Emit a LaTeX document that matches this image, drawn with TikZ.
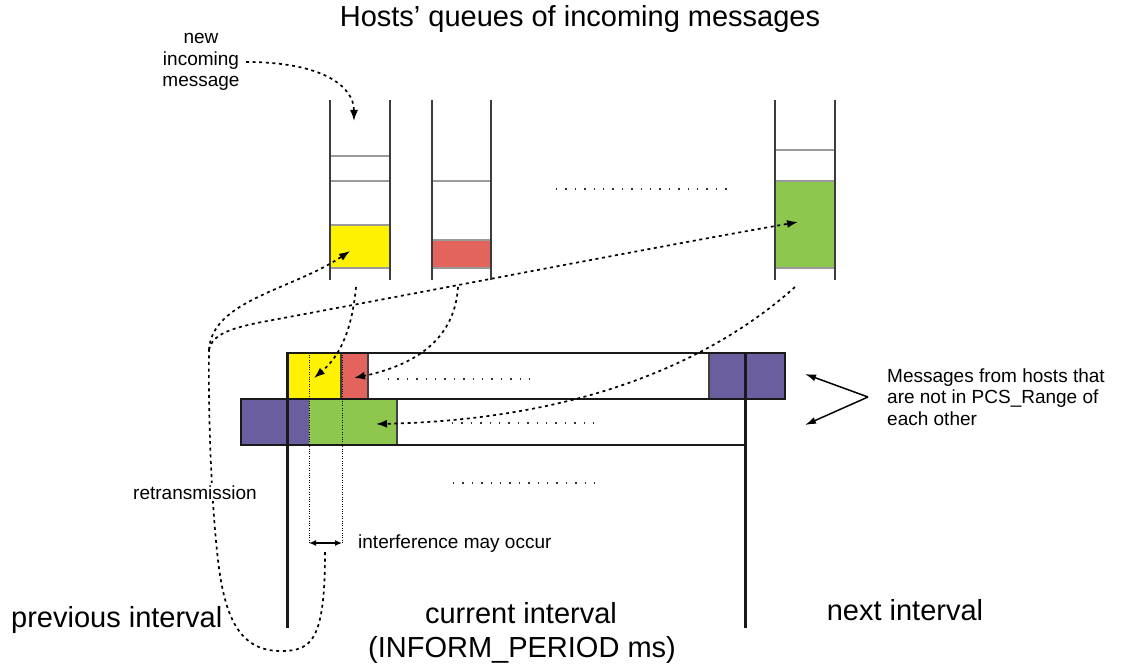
\documentclass[tikz,border=0pt]{standalone}
\usepackage{fontspec}
\setmainfont{Liberation Sans}
\usetikzlibrary{arrows.meta}

\definecolor{msgyellow}{HTML}{FFF200}
\definecolor{msgred}{HTML}{E3635D}
\definecolor{msggreen}{HTML}{8EC74E}
\definecolor{msgpurple}{HTML}{6B5E9E}
\definecolor{wallgrey}{HTML}{3C3C3C}
\definecolor{slotgrey}{HTML}{9A9A9A}

\tikzset{
  qwall/.style={draw=wallgrey, line width=1.8pt},
  slot/.style={draw=slotgrey, line width=1.2pt},
  rowedge/.style={draw=black!90, line width=1.6pt},
  celledge/.style={draw=black!75, line width=1.1pt},
  boundary/.style={draw=black!90, line width=3pt},
  flow/.style={line width=1.7pt, dash pattern=on 3pt off 3.6pt,
    -{Latex[length=11pt,width=8pt]}},
  flowline/.style={line width=1.7pt, dash pattern=on 3pt off 3.6pt},
  ellipsis/.style={line width=1.6pt, dash pattern=on 1.4pt off 8pt, draw=black!80},
  guide/.style={line width=1pt, dash pattern=on 1pt off 1.4pt},
  pointer/.style={line width=1.5pt, -{Latex[length=11pt,width=7pt]}},
  bigtext/.style={font=\fontsize{29}{34}\selectfont, inner sep=0pt},
  smalltext/.style={font=\fontsize{19}{21.5}\selectfont, inner sep=0pt},
}

\begin{document}
\begin{tikzpicture}[x=1pt,y=-1pt]
\useasboundingbox (0,0) rectangle (1121,666);

% ---- title ----
\node[bigtext, anchor=base] (title) at (580,27) {Hosts’ queues of incoming messages};

% ---- host queues ----
% queue 1
\fill[msgyellow] (330,225) rectangle (390,268);
\draw[slot] (330,156) -- (390,156) (330,181) -- (390,181)
            (330,225) -- (390,225) (330,268) -- (390,268);
\draw[qwall] (330,100) -- (330,280) (390,100) -- (390,280);
% queue 2
\fill[msgred] (432,240) rectangle (491,268);
\draw[slot] (432,181) -- (491,181) (432,240) -- (491,240) (432,268) -- (491,268);
\draw[qwall] (432,100) -- (432,280) (491,100) -- (491,280);
% queue n
\fill[msggreen] (775,181) rectangle (835,268);
\draw[slot] (775,150) -- (835,150) (775,181) -- (835,181) (775,268) -- (835,268);
\draw[qwall] (775,100) -- (775,280) (835,100) -- (835,280);
% further queues
\draw[ellipsis] (556,189) -- (727,189);

% ---- channel rows ----
\fill[msgyellow] (287,353) rectangle (341,399);
\fill[msgred] (341,353) rectangle (368,399);
\fill[msgpurple] (709,353) rectangle (785,399);
\draw[celledge] (341,353) -- (341,399) (368,353) -- (368,399) (709,353) -- (709,399);
\draw[rowedge] (287,353) rectangle (785,399);

\fill[msgpurple] (241,399) rectangle (309,445);
\fill[msggreen] (309,399) rectangle (397,445);
\draw[celledge] (397,399) -- (397,445);
\draw[rowedge] (241,399) rectangle (745,445);

\draw[ellipsis] (388,379) -- (536,379);
\draw[ellipsis] (452,423) -- (600,423);
\draw[ellipsis] (453,483) -- (602,483);

% interval boundaries
\draw[boundary] (287,352) -- (287,628);
\draw[boundary] (745,352) -- (745,628);

% overlap window
\draw[guide] (309,355) -- (309,543);
\draw[guide] (342,355) -- (342,543);
\coordinate (ovl) at (309,543);
\coordinate (ovr) at (342,543);
\draw[line width=1.3pt, {Latex[length=7pt,width=6pt]}-{Latex[length=7pt,width=6pt]}] (ovl) -- (ovr);

% ---- message flows ----
\coordinate (newfrom) at (246,62);
\coordinate (newto) at (354,121);
\draw[flow] (newfrom) .. controls (322,62) and (354,86) .. (newto);

\coordinate (q1out) at (356,287);
\coordinate (q1in) at (314,378);
\draw[flow] (q1out) .. controls (352,330) and (340,356) .. (q1in);

\coordinate (q2out) at (458,287);
\coordinate (q2in) at (354,378);
\draw[flow] (q2out) .. controls (455,336) and (420,364) .. (q2in);

\coordinate (qnout) at (795,287);
\coordinate (qnin) at (376,424);
\draw[flow] (qnout) .. controls (700,372) and (560,420) .. (qnin);

% retransmission loop back into the queues
\coordinate (rstart) at (325,552);
\coordinate (rfork) at (209,350);
\coordinate (ryellow) at (350,251);
\coordinate (rgreen) at (798,222);
\draw[flowline] (rstart) .. controls (325,640) and (312,651) .. (281,651)
   .. controls (242,651) and (225,622) .. (218,560)
   .. controls (212,510) and (208,420) .. (rfork);
\draw[flow] (rfork) .. controls (212,300) and (292,290) .. (ryellow);
\draw[flow] (rfork) .. controls (212,334) and (232,328) .. (262,322)
   .. controls (450,287) and (650,248) .. (rgreen);

% pointers to out-of-range messages
\coordinate (fork) at (868,397);
\coordinate (uptip) at (805,374);
\coordinate (lowtip) at (805,425);
\draw[pointer] (fork) -- (uptip);
\draw[pointer] (fork) -- (lowtip);

% ---- labels (multi-line nodes sit on their last baseline) ----
\node[smalltext, align=center, anchor=base] (newmsg) at (201,87)
  {new\\incoming\\message};
\node[smalltext, align=left, anchor=base west] (outrange) at (887,425)
  {Messages from hosts that\\are not in PCS\_Range of\\each other};
\node[smalltext, anchor=base, fill=white, inner sep=2pt] (retx) at (195,499) {retransmission};
\node[smalltext, anchor=base west] (interf) at (358,548) {interference may occur};
\node[bigtext, anchor=base west] (prev) at (11,627) {previous interval};
\node[bigtext, anchor=base] (cur) at (521,623) {current interval};
\node[bigtext, anchor=base] (curp) at (522,657) {(INFORM\_PERIOD ms)};
\node[bigtext, anchor=base] (next) at (905,620) {next interval};
\end{tikzpicture}
\end{document}
